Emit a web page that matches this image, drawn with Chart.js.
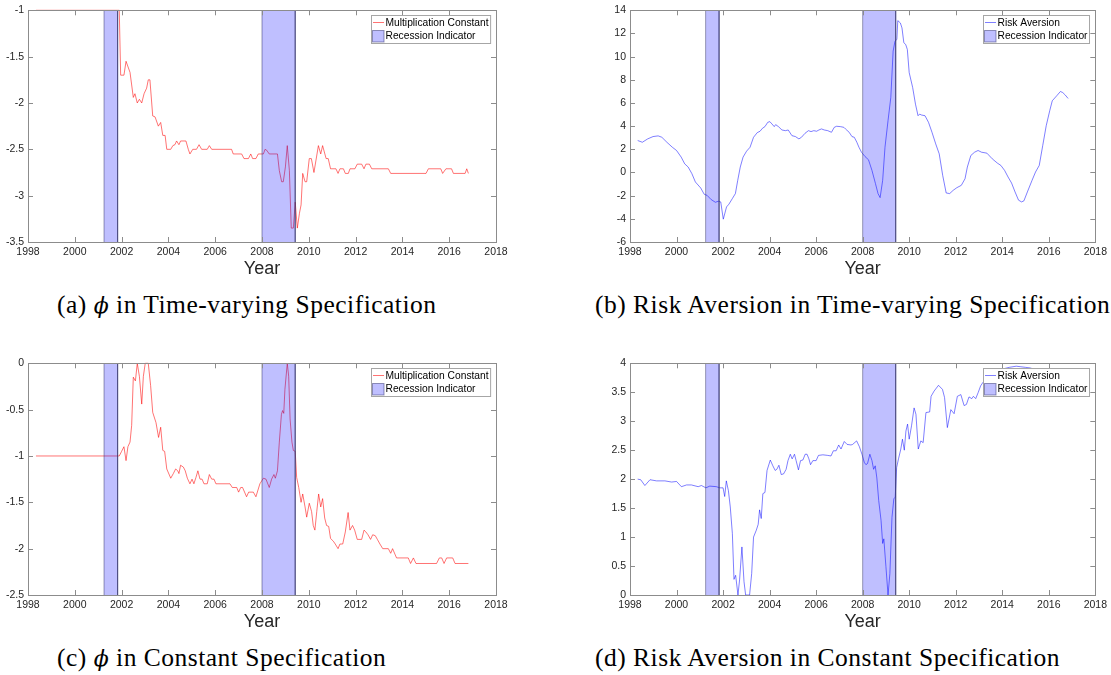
<!DOCTYPE html>
<html><head><meta charset="utf-8">
<script src="https://cdn.jsdelivr.net/npm/chart.js@4.4.1/dist/chart.umd.min.js"></script>
<style>
html,body{margin:0;padding:0;background:#fff}
body{width:1111px;height:675px;position:relative;overflow:hidden}
canvas{position:absolute;display:block}
.cap{position:absolute;font-family:'Liberation Serif','DejaVu Serif',serif;font-size:25.5px;letter-spacing:0.5px;white-space:nowrap;color:#000;line-height:28px}
.cap i{font-family:'DejaVu Serif',serif;font-size:22px}
</style></head><body>
<canvas id="ca" width="555" height="280" style="left:0;top:0"></canvas>
<canvas id="cb" width="556" height="280" style="left:555px;top:0"></canvas>
<canvas id="cc" width="555" height="280" style="left:0;top:353px"></canvas>
<canvas id="cd" width="556" height="280" style="left:555px;top:353px"></canvas>
<div class="cap" id="capA" style="left:57px;top:291px">(a) <i>ϕ</i> in Time-varying Specification</div>
<div class="cap" id="capB" style="left:595px;top:291px">(b) Risk Aversion in Time-varying Specification</div>
<div class="cap" id="capC" style="left:57px;top:644px">(c) <i>ϕ</i> in Constant Specification</div>
<div class="cap" id="capD" style="left:595px;top:644px">(d) Risk Aversion in Constant Specification</div>
<script>
// ---------- DATA ----------
const recessionStart = [2001.25, 2008.0];
const recessionEnd   = [2001.83, 2009.42];

const xTicks = [1998,2000,2002,2004,2006,2008,2010,2012,2014,2016,2018];
const xTickLabels = ['1998','2000','2002','2004','2006','2008','2010','2012','2014','2016','2018'];

// (a) phi, time-varying
const aYears = [1998.34,2001.9,2001.96,2002.1,2002.19,2002.36,2002.5,2002.57,2002.67,2002.76,2002.86,2002.96,2003.07,2003.14,2003.21,2003.33,2003.43,2003.57,2003.67,2003.76,2003.86,2003.93,2004.1,2004.19,2004.28,2004.35,2004.45,2004.52,2004.75,2004.85,2004.92,2005.04,2005.2,2005.31,2005.42,2005.66,2005.75,2005.85,2006.7,2006.77,2007.13,2007.23,2007.42,2007.52,2007.6,2007.74,2007.84,2008.06,2008.13,2008.2,2008.31,2008.66,2008.74,2008.84,2008.91,2009.0,2009.08,2009.17,2009.25,2009.34,2009.42,2009.51,2009.6,2009.67,2009.74,2009.84,2009.91,2010.02,2010.11,2010.22,2010.41,2010.51,2010.59,2010.74,2010.83,2010.93,2011.16,2011.25,2011.33,2011.48,2011.56,2011.69,2011.76,2011.97,2012.07,2012.26,2012.36,2012.44,2012.59,2012.69,2013.4,2013.5,2015.01,2015.11,2015.64,2015.72,2015.86,2016.1,2016.18,2016.68,2016.75,2016.82];
const aValues = [-1,-1,-1.70,-1.70,-1.55,-1.67,-1.94,-1.9,-2.0,-1.96,-2.0,-1.9,-1.84,-1.75,-1.75,-2.14,-2.15,-2.25,-2.21,-2.35,-2.35,-2.5,-2.5,-2.46,-2.45,-2.41,-2.45,-2.41,-2.41,-2.5,-2.55,-2.5,-2.5,-2.45,-2.5,-2.5,-2.46,-2.5,-2.5,-2.55,-2.55,-2.6,-2.6,-2.55,-2.6,-2.6,-2.55,-2.55,-2.5,-2.51,-2.55,-2.55,-2.73,-2.85,-2.85,-2.69,-2.46,-2.73,-3.35,-3.35,-3.07,-3.35,-3.19,-3.1,-2.76,-2.85,-2.85,-2.6,-2.6,-2.75,-2.46,-2.55,-2.46,-2.6,-2.6,-2.71,-2.71,-2.76,-2.71,-2.71,-2.76,-2.76,-2.71,-2.71,-2.66,-2.66,-2.71,-2.66,-2.66,-2.71,-2.71,-2.76,-2.76,-2.71,-2.71,-2.76,-2.71,-2.71,-2.76,-2.76,-2.71,-2.76];
const aYTicks = [-3.5,-3,-2.5,-2,-1.5,-1];
const aYTickLabels = ['-3.5','-3','-2.5','-2','-1.5','-1'];

// (b) risk aversion, time-varying
const bYears = [1998.33,1998.53,1998.76,1998.99,1999.21,1999.37,1999.59,1999.82,2000.0,2000.2,2000.35,2000.5,2000.66,2000.81,2001.04,2001.19,2001.31,2001.49,2001.67,2001.8,2001.9,2002.01,2002.15,2002.25,2002.4,2002.53,2002.63,2002.74,2002.86,2003.01,2003.16,2003.31,2003.47,2003.59,2003.69,2003.8,2003.92,2004.01,2004.1,2004.2,2004.26,2004.38,2004.53,2004.68,2004.8,2004.96,2005.11,2005.26,2005.37,2005.52,2005.67,2005.78,2005.9,2006.02,2006.12,2006.23,2006.35,2006.5,2006.66,2006.78,2006.88,2007.04,2007.19,2007.26,2007.42,2007.54,2007.64,2007.75,2007.84,2007.95,2008.1,2008.25,2008.4,2008.55,2008.66,2008.75,2008.86,2008.96,2009.09,2009.21,2009.31,2009.39,2009.47,2009.51,2009.62,2009.69,2009.77,2009.85,2009.92,2010.0,2010.15,2010.27,2010.38,2010.45,2010.53,2010.68,2010.83,2010.98,2011.14,2011.29,2011.44,2011.59,2011.74,2011.89,2012.05,2012.24,2012.4,2012.5,2012.65,2012.81,2012.96,2013.11,2013.34,2013.57,2013.79,2013.94,2014.1,2014.25,2014.4,2014.55,2014.7,2014.83,2014.93,2015.08,2015.28,2015.43,2015.59,2015.74,2015.89,2016.04,2016.15,2016.34,2016.5,2016.6,2016.71,2016.83];
const bValues = [2.76,2.61,2.9,3.1,3.16,3.04,2.6,2.18,1.9,1.33,0.75,0.47,-0.1,-0.82,-1.34,-1.88,-1.97,-2.34,-2.57,-2.48,-2.54,-4.03,-2.97,-2.74,-2.25,-1.82,-0.68,0.47,1.33,1.84,2.18,3.04,3.44,3.56,3.81,3.96,4.33,4.39,4.19,3.96,4.13,3.96,3.67,3.61,3.67,3.18,3.1,2.9,3.04,3.38,3.61,3.53,3.61,3.56,3.67,3.76,3.67,3.61,3.47,3.9,3.99,3.96,3.9,3.76,3.47,3.1,3.04,2.61,2.18,1.75,1.38,1.1,0.18,-0.96,-1.82,-2.17,-0.68,2.18,4.47,6.47,10.48,11.34,11.48,13.11,12.91,12.48,11.2,11.05,10.62,8.62,7.33,5.9,4.9,5.04,4.96,4.9,4.33,3.47,2.47,1.61,-0.25,-1.77,-1.82,-1.54,-1.31,-1.11,-0.54,0.47,1.47,1.75,1.9,1.75,1.67,1.18,0.81,0.61,0.18,-0.39,-0.91,-1.68,-2.39,-2.54,-2.45,-1.68,-0.68,0.04,0.61,2.33,4.04,5.33,6.19,6.62,6.99,6.9,6.68,6.39];
const bYTicks = [-6,-4,-2,0,2,4,6,8,10,12,14];
const bYTickLabels = ['-6','-4','-2','0','2','4','6','8','10','12','14'];

// (c) phi, constant
const cYears = [1998.34,2001.9,2002.0,2002.1,2002.19,2002.27,2002.36,2002.43,2002.5,2002.59,2002.67,2002.76,2002.86,2002.93,2003.01,2003.14,2003.24,2003.33,2003.47,2003.58,2003.67,2003.76,2003.84,2003.93,2004.1,2004.21,2004.31,2004.4,2004.45,2004.52,2004.64,2004.72,2004.81,2004.92,2005.01,2005.09,2005.18,2005.26,2005.35,2005.44,2005.52,2005.66,2005.75,2005.85,2005.95,2006.03,2006.63,2006.73,2006.92,2007.0,2007.09,2007.17,2007.34,2007.43,2007.63,2007.74,2007.91,2008.06,2008.17,2008.31,2008.41,2008.51,2008.57,2008.66,2008.74,2008.83,2008.88,2008.93,2008.98,2009.08,2009.14,2009.2,2009.28,2009.34,2009.42,2009.48,2009.57,2009.67,2009.74,2009.84,2009.91,2010.02,2010.12,2010.19,2010.26,2010.34,2010.42,2010.51,2010.59,2010.68,2010.76,2010.85,2010.93,2011.05,2011.13,2011.25,2011.33,2011.45,2011.56,2011.68,2011.76,2011.87,2011.96,2012.07,2012.26,2012.36,2012.44,2012.53,2012.64,2012.73,2012.84,2012.93,2013.04,2013.16,2013.4,2013.5,2013.58,2013.75,2014.25,2014.35,2014.47,2014.58,2015.46,2015.58,2015.68,2015.78,2015.89,2016.15,2016.25,2016.82];
const cValues = [-1,-1,-0.95,-0.9,-1.05,-0.9,-0.85,-0.67,-0.15,-0.19,0,-0.14,-0.44,-0.14,0,0,-0.24,-0.53,-0.64,-0.8,-0.69,-0.94,-0.95,-1.14,-1.24,-1.19,-1.14,-1.16,-1.19,-1.1,-1.12,-1.16,-1.24,-1.3,-1.25,-1.3,-1.23,-1.16,-1.25,-1.25,-1.3,-1.3,-1.2,-1.25,-1.25,-1.3,-1.3,-1.34,-1.34,-1.39,-1.34,-1.34,-1.44,-1.39,-1.39,-1.44,-1.3,-1.24,-1.25,-1.34,-1.25,-1.2,-1.24,-1.16,-0.85,-0.55,-0.51,-0.54,-0.28,0,-0.14,-0.6,-0.85,-0.94,-0.95,-1.23,-1.34,-1.5,-1.41,-1.55,-1.66,-1.51,-1.6,-1.75,-1.8,-1.6,-1.41,-1.55,-1.46,-1.67,-1.75,-1.76,-1.89,-1.92,-1.95,-2.0,-1.95,-1.95,-1.82,-1.61,-1.8,-1.75,-1.8,-1.9,-1.9,-1.8,-1.82,-1.85,-1.9,-1.85,-1.86,-1.9,-1.95,-2.0,-2.0,-2.05,-2.0,-2.1,-2.1,-2.16,-2.1,-2.16,-2.16,-2.1,-2.1,-2.16,-2.1,-2.1,-2.16,-2.16];
const cYTicks = [-2.5,-2,-1.5,-1,-0.5,0];
const cYTickLabels = ['-2.5','-2','-1.5','-1','-0.5','0'];

// (d) risk aversion, constant
const dYears = [1998.33,1998.46,1998.64,1998.86,1999.14,1999.5,1999.79,2000.0,2000.21,2000.43,2000.64,2000.93,2001.07,2001.26,2001.43,2001.71,2001.86,2002.0,2002.07,2002.14,2002.23,2002.31,2002.4,2002.47,2002.54,2002.64,2002.71,2002.81,2002.9,2002.97,2003.14,2003.23,2003.31,2003.43,2003.51,2003.57,2003.64,2003.71,2003.8,2003.89,2004.03,2004.14,2004.24,2004.31,2004.4,2004.5,2004.6,2004.71,2004.79,2004.89,2004.97,2005.07,2005.14,2005.24,2005.33,2005.43,2005.53,2005.61,2005.69,2005.76,2005.86,2006.0,2006.1,2006.29,2006.5,2006.64,2006.74,2006.86,2006.97,2007.07,2007.21,2007.33,2007.5,2007.57,2007.74,2007.86,2007.97,2008.07,2008.14,2008.21,2008.31,2008.4,2008.47,2008.54,2008.61,2008.69,2008.79,2008.86,2008.91,2009.0,2009.09,2009.17,2009.26,2009.34,2009.4,2009.46,2009.54,2009.64,2009.71,2009.79,2009.86,2009.93,2010.0,2010.1,2010.21,2010.29,2010.39,2010.5,2010.6,2010.72,2010.88,2010.94,2011.07,2011.26,2011.43,2011.52,2011.64,2011.79,2011.93,2012.07,2012.22,2012.36,2012.46,2012.57,2012.69,2012.76,2012.86,2012.97,2013.07,2013.17,2013.4,2013.7,2014.0,2014.3,2014.6,2014.8,2015.0,2015.2,2015.5,2016.0,2016.5,2016.83];
const dValues = [2.0,1.99,1.89,1.99,1.97,1.97,1.95,1.96,1.87,1.9,1.9,1.87,1.89,1.85,1.88,1.87,1.85,1.85,1.7,1.97,1.8,1.52,1.06,0.27,0.34,0,0.26,0.83,0.23,0,0,0.37,1.0,1.12,1.22,1.47,1.32,1.75,1.77,2.15,2.33,2.23,2.15,2.17,2.24,2.08,2.09,2.17,2.32,2.43,2.35,2.43,2.32,2.16,2.32,2.33,2.43,2.43,2.35,2.25,2.32,2.32,2.41,2.42,2.41,2.4,2.49,2.49,2.59,2.52,2.65,2.6,2.59,2.6,2.66,2.56,2.43,2.29,2.25,2.27,2.43,2.32,2.17,2.23,2.02,1.63,1.29,0.89,0.97,0.49,0,0.37,1.34,1.66,1.69,2.2,2.35,2.52,2.69,2.5,2.83,2.95,2.69,2.92,3.23,3.12,2.52,2.66,2.63,3.15,3.16,3.43,3.52,3.62,3.55,3.41,2.89,3.2,3.13,3.43,3.46,3.27,3.29,3.42,3.39,3.43,3.39,3.5,3.61,3.67,3.78,3.85,3.9,3.93,3.95,3.94,3.93,3.92,3.88,3.85,3.82,3.8];
const dYTicks = [0,0.5,1,1.5,2,2.5,3,3.5,4];
const dYTickLabels = ['0','0.5','1','1.5','2','2.5','3','3.5','4'];

// ---------- STYLE / LAYOUT ----------
const FONT = "'Liberation Sans', Arial, sans-serif";
const AXIS_COLOR = '#8c8c8c';
const TEXT_COLOR = '#262626';
const REC_FILL = 'rgba(0,0,255,0.25)';
const REC_EDGE = 'rgba(50,50,110,0.5)';

const mlAxes = {
  id: 'mlAxes',
  afterDatasetsDraw(chart) {
    const {ctx, chartArea: ca, scales: {x, y}} = chart;
    ctx.save();
    ctx.strokeStyle = AXIS_COLOR;
    ctx.lineWidth = 1;
    ctx.beginPath();
    const L = 5;
    x.ticks.forEach(t => {
      const px = Math.round(x.getPixelForValue(t.value)) + 0.5;
      ctx.moveTo(px, ca.bottom); ctx.lineTo(px, ca.bottom - L);
      ctx.moveTo(px, ca.top); ctx.lineTo(px, ca.top + L);
    });
    y.ticks.forEach(t => {
      const py = Math.round(y.getPixelForValue(t.value)) + 0.5;
      ctx.moveTo(ca.left, py); ctx.lineTo(ca.left + L, py);
      ctx.moveTo(ca.right, py); ctx.lineTo(ca.right - L, py);
    });
    ctx.stroke();
    ctx.strokeRect(Math.round(ca.left) + 0.5, Math.round(ca.top) + 0.5, Math.round(ca.right - ca.left), Math.round(ca.bottom - ca.top));
    ctx.restore();
  },
  afterDraw(chart) {
    const {ctx, chartArea: ca} = chart;
    const dsLine = chart.data.datasets.find(d => !d.isRecession);
    const dsRec = chart.data.datasets.find(d => d.isRecession);
    ctx.save();
    ctx.font = "10.25px " + FONT;
    const w = Math.max(ctx.measureText(dsLine.label).width, ctx.measureText(dsRec.label).width) + 16;
    const h = 28;
    const bx = Math.round(ca.right - 6 - w) + 0.5, by = Math.round(ca.top + 5) + 0.5;
    ctx.fillStyle = '#fff';
    ctx.fillRect(bx, by, w, h);
    ctx.strokeStyle = '#a6a6a6';
    ctx.lineWidth = 1;
    ctx.strokeRect(bx, by, w, h);
    ctx.strokeStyle = dsLine.borderColor;
    ctx.beginPath(); ctx.moveTo(bx + 1.5, by + 7); ctx.lineTo(bx + 12.5, by + 7); ctx.stroke();
    ctx.fillStyle = dsRec.backgroundColor;
    ctx.fillRect(bx + 1, by + 15, 11.5, 11.5);
    ctx.strokeStyle = REC_EDGE;
    ctx.strokeRect(bx + 1, by + 15, 11.5, 11.5);
    ctx.fillStyle = '#000';
    ctx.textBaseline = 'middle';
    ctx.textAlign = 'left';
    ctx.fillText(dsLine.label, bx + 14, by + 7.5);
    ctx.fillText(dsRec.label, bx + 14, by + 21);
    ctx.restore();
  }
};

function makeChart(id, cfg) {
  const datasets = [];
  recessionStart.forEach((s, i) => {
    datasets.push({
      label: 'Recession Indicator', isRecession: true,
      data: [{x: s, y: cfg.yMin}, {x: s, y: cfg.yMax}, {x: recessionEnd[i], y: cfg.yMax}, {x: recessionEnd[i], y: cfg.yMin}],
      fill: 'start', backgroundColor: REC_FILL, borderColor: REC_EDGE, borderWidth: 1,
      pointRadius: 0, tension: 0, order: 0
    });
  });
  datasets.push({
    label: cfg.label,
    data: cfg.xs.map((xv, i) => ({x: xv, y: cfg.ys[i]})),
    borderColor: cfg.color, borderWidth: 1, pointRadius: 0, fill: false, tension: 0, order: 1, clip: 2
  });
  return new Chart(document.getElementById(id), {
    type: 'line',
    data: {datasets},
    plugins: [mlAxes],
    options: {
      responsive: false, animation: false, devicePixelRatio: 1,
      layout: {padding: {left: 0, top: 9, right: cfg.padRight, bottom: 0}},
      plugins: {legend: {display: false}, tooltip: {enabled: false}},
      elements: {line: {borderJoinStyle: 'round'}},
      scales: {
        x: {
          type: 'linear', min: 1998, max: 2018,
          afterBuildTicks: s => { s.ticks = xTicks.map(v => ({value: v})); },
          afterFit: s => { s.height = 38; },
          ticks: {callback: (v, i) => xTickLabels[i], font: {family: FONT, size: 10.5}, color: TEXT_COLOR, padding: 4, maxRotation: 0, autoSkip: false},
          grid: {display: false, drawTicks: false}, border: {display: false},
          title: {display: true, text: 'Year', font: {family: FONT, size: 18}, color: TEXT_COLOR, padding: {top: 0, bottom: 0}}
        },
        y: {
          type: 'linear', min: cfg.yMin, max: cfg.yMax,
          afterBuildTicks: s => { s.ticks = cfg.yTicks.map(v => ({value: v})); },
          afterFit: s => { s.width = cfg.yWidth; },
          ticks: {callback: (v, i) => cfg.yTickLabels[i], font: {family: FONT, size: 10.5}, color: TEXT_COLOR, padding: 4, autoSkip: false},
          grid: {display: false, drawTicks: false}, border: {display: false}
        }
      }
    }
  });
}

const RED = 'rgba(255,0,0,0.55)';
const BLUE = 'rgba(0,0,255,0.5)';
makeChart('ca', {xs: aYears, ys: aValues, label: 'Multiplication Constant', color: RED, yMin: -3.5, yMax: -1, yTicks: aYTicks, yTickLabels: aYTickLabels, yWidth: 28, padRight: 59});
makeChart('cb', {xs: bYears, ys: bValues, label: 'Risk Aversion', color: BLUE, yMin: -6, yMax: 14, yTicks: bYTicks, yTickLabels: bYTickLabels, yWidth: 75, padRight: 14});
makeChart('cc', {xs: cYears, ys: cValues, label: 'Multiplication Constant', color: RED, yMin: -2.5, yMax: 0, yTicks: cYTicks, yTickLabels: cYTickLabels, yWidth: 28, padRight: 59});
makeChart('cd', {xs: dYears, ys: dValues, label: 'Risk Aversion', color: BLUE, yMin: 0, yMax: 4, yTicks: dYTicks, yTickLabels: dYTickLabels, yWidth: 75, padRight: 14});
</script>
</body></html>
